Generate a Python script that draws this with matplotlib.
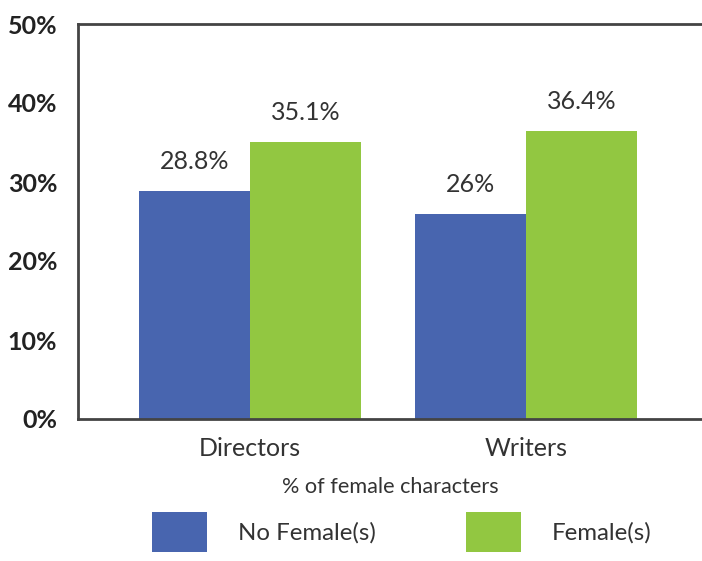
import numpy as np
import matplotlib.pyplot as plt

categories = ["Directors", "Writers"]
series = ["No Female(s)", "Female(s)"]
no_female = [28.8, 26.0]
female = [35.1, 36.4]
value_labels = [["28.8%", "26%"], ["35.1%", "36.4%"]]
yticks = [0, 10, 20, 30, 40, 50]

blue = "#4865AF"
green = "#92C741"
text_col = "#333333"

plt.rcParams['font.family'] = ['Lato', 'DejaVu Sans']

fig = plt.figure(figsize=(7.02, 5.61), dpi=100)
ax = fig.add_axes([78/702, 1 - 419/561, 1 - 78/702, (419 - 24)/561])

x = np.arange(len(categories))
w = 0.402
b1 = ax.bar(x - w/2, no_female, w, color=blue, label=series[0])
b2 = ax.bar(x + w/2, female, w, color=green, label=series[1])
ax.bar_label(b1, labels=value_labels[0], padding=13, fontsize=18, color=text_col)
ax.bar_label(b2, labels=value_labels[1], padding=13, fontsize=18, color=text_col)

ax.set_xlim(-0.623, 1.638)
ax.set_ylim(0, 50)
ax.set_yticks(yticks)
ax.set_yticklabels([f"{v}%" for v in yticks], fontsize=18, fontweight='bold', color='#222222')
ax.set_xticks(x)
ax.set_xticklabels(categories, fontsize=18, color=text_col)
ax.tick_params(axis='both', length=0)
ax.tick_params(axis='y', pad=15)
ax.tick_params(axis='x', pad=13)
ax.set_xlabel("% of female characters", fontsize=15.6, color=text_col, labelpad=12)

for s in ['left', 'top', 'bottom']:
    ax.spines[s].set_linewidth(2)
    ax.spines[s].set_color('#444444')
ax.spines['right'].set_visible(False)

fig.legend(loc='upper left', bbox_to_anchor=(152/702, 1 - 512/561), ncol=2,
           frameon=False, fontsize=17.3, handlelength=2.29, handleheight=2.2,
           handletextpad=1.29, columnspacing=3.75, borderpad=0, borderaxespad=0,
           labelcolor=text_col)

fig.savefig("out.png", dpi=100)
